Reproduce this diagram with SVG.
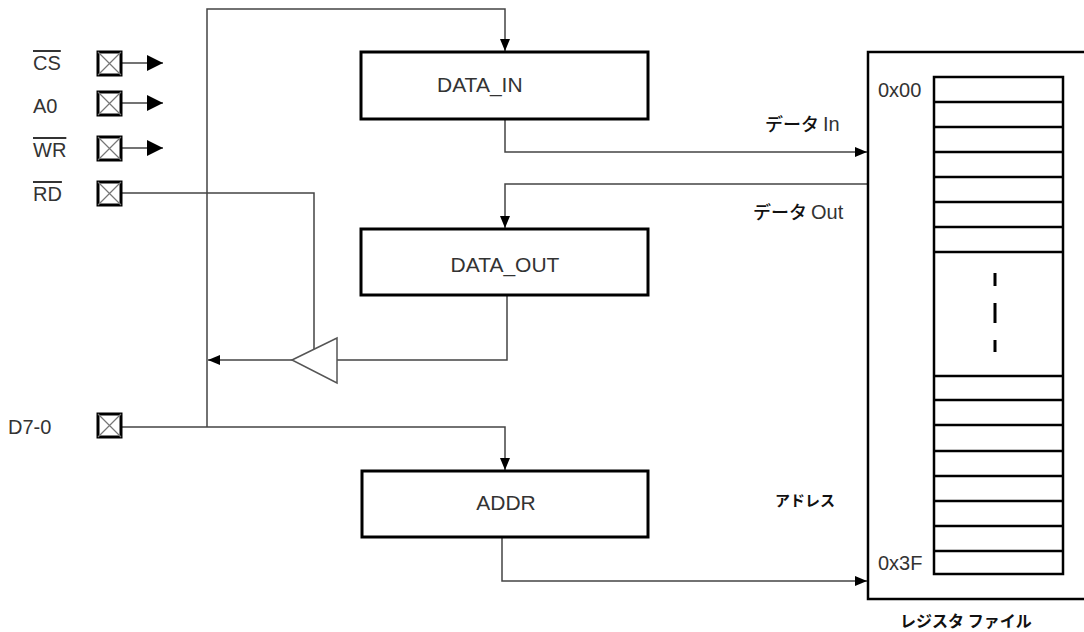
<svg xmlns="http://www.w3.org/2000/svg" width="1084" height="632" viewBox="0 0 1084 632">
<style>
.t{font-family:"Liberation Sans","Noto Sans CJK JP",Arial,sans-serif;fill:#333;}
.lbl{font-size:20px;}
.box{fill:#fff;stroke:#000;stroke-width:3;}
.pin{fill:#fff;stroke:#000;stroke-width:3;}
.x{stroke:#777;stroke-width:1.2;fill:none;}
.w{fill:none;stroke:#444;stroke-width:1.5;}
.reg{fill:#fff;stroke:#000;stroke-width:2.5;}
.jp{font-family:"Noto Sans CJK JP","Liberation Sans",sans-serif;fill:#111;}
</style>
<defs>
<marker id="arr" viewBox="0 0 12 10" refX="12" refY="5" markerWidth="12" markerHeight="10" markerUnits="userSpaceOnUse" orient="auto">
<path d="M0,0 L12,5 L0,10 z" fill="#000"/>
</marker>
<marker id="big" viewBox="0 0 16 16" refX="16" refY="8" markerWidth="16" markerHeight="16" markerUnits="userSpaceOnUse" orient="auto">
<path d="M0,0 L16,8 L0,16 z" fill="#000"/>
</marker>
</defs>
<rect width="1084" height="632" fill="#fff"/>

<g id="connectors">
<path class="w" d="M207,427 V9 H505 V51" marker-end="url(#arr)"/>
<path class="w" d="M122,427 H505 V470" marker-end="url(#arr)"/>
<path class="w" d="M505,119 V152 H867" marker-end="url(#arr)"/>
<path class="w" d="M868,184 H505 V228" marker-end="url(#arr)"/>
<path class="w" d="M507,295 V360 H337"/>
<path class="w" d="M292,360 H208" marker-end="url(#arr)"/>
<path class="w" d="M122,193 H314 V349"/>
<path class="w" d="M502,537 V581 H867" marker-end="url(#arr)"/>
<path class="w" stroke="#000" stroke-width="2" d="M122,63 H163" marker-end="url(#big)"/>
<path class="w" stroke="#000" stroke-width="2" d="M122,103 H163" marker-end="url(#big)"/>
<path class="w" stroke="#000" stroke-width="2" d="M122,148 H163" marker-end="url(#big)"/>
</g>

<g id="pin-cs">
<rect class="pin" x="98" y="52" width="23" height="23"/>
<path class="x" d="M98,52 L121,75 M121,52 L98,75"/>
<text class="t lbl" x="33" y="70" text-decoration="overline">CS</text>
</g>
<g id="pin-a0">
<rect class="pin" x="98" y="92" width="23" height="23"/>
<path class="x" d="M98,92 L121,115 M121,92 L98,115"/>
<text class="t lbl" x="33" y="113">A0</text>
</g>
<g id="pin-wr">
<rect class="pin" x="98" y="137" width="23" height="23"/>
<path class="x" d="M98,137 L121,160 M121,137 L98,160"/>
<text class="t lbl" x="33" y="157" text-decoration="overline">WR</text>
</g>
<g id="pin-rd">
<rect class="pin" x="98" y="182" width="23" height="23"/>
<path class="x" d="M98,182 L121,205 M121,182 L98,205"/>
<text class="t lbl" x="33" y="201" text-decoration="overline">RD</text>
</g>
<g id="pin-d">
<rect class="pin" x="98" y="414" width="23" height="23"/>
<path class="x" d="M98,414 L121,437 M121,414 L98,437"/>
<text class="t lbl" x="8" y="434">D7-0</text>
</g>

<g id="data-in">
<rect class="box" x="361" y="52" width="287" height="67"/>
<text class="t" x="437" y="92" font-size="21">DATA_IN</text>
</g>
<g id="data-out">
<rect class="box" x="361" y="229" width="287" height="66"/>
<text class="t" x="505" y="272" font-size="21" text-anchor="middle">DATA_OUT</text>
</g>
<g id="addr">
<rect class="box" x="362" y="471" width="286" height="66"/>
<text class="t" x="506" y="510" font-size="21" text-anchor="middle">ADDR</text>
</g>
<g id="buffer">
<polygon points="292,360 337,338 337,383" fill="#fff" stroke="#555" stroke-width="1.5"/>
</g>

<g id="register-file">
<rect class="reg" x="868" y="52" width="300" height="547"/>
<rect class="reg" x="934" y="77" width="129" height="497"/>
<path fill="none" stroke="#000" stroke-width="2.5" d="M934,102 H1063 M934,127 H1063 M934,152 H1063 M934,177 H1063 M934,202 H1063 M934,227 H1063 M934,252 H1063 M934,376 H1063 M934,400 H1063 M934,425 H1063 M934,451 H1063 M934,476 H1063 M934,501 H1063 M934,526 H1063 M934,551 H1063"/>
<path fill="none" stroke="#000" stroke-width="3" d="M995,273 V286 M995,303 V323 M995,340 V352"/>
<text class="t" x="878" y="97" font-size="20">0x00</text>
<text class="t" x="878" y="570" font-size="20">0x3F</text>
<text class="jp" x="900" y="627" font-size="16" font-weight="bold">レジスタ ファイル</text>
</g>

<g id="labels">
<text class="jp" x="765" y="131" font-size="18" font-weight="500">データ <tspan font-family="Liberation Sans" font-size="20" font-weight="normal" fill="#333">In</tspan></text>
<text class="jp" x="753" y="219" font-size="18" font-weight="500">データ <tspan font-family="Liberation Sans" font-size="20" font-weight="normal" fill="#333">Out</tspan></text>
<text class="jp" x="775" y="506" font-size="15" font-weight="bold">アドレス</text>
</g>
</svg>
